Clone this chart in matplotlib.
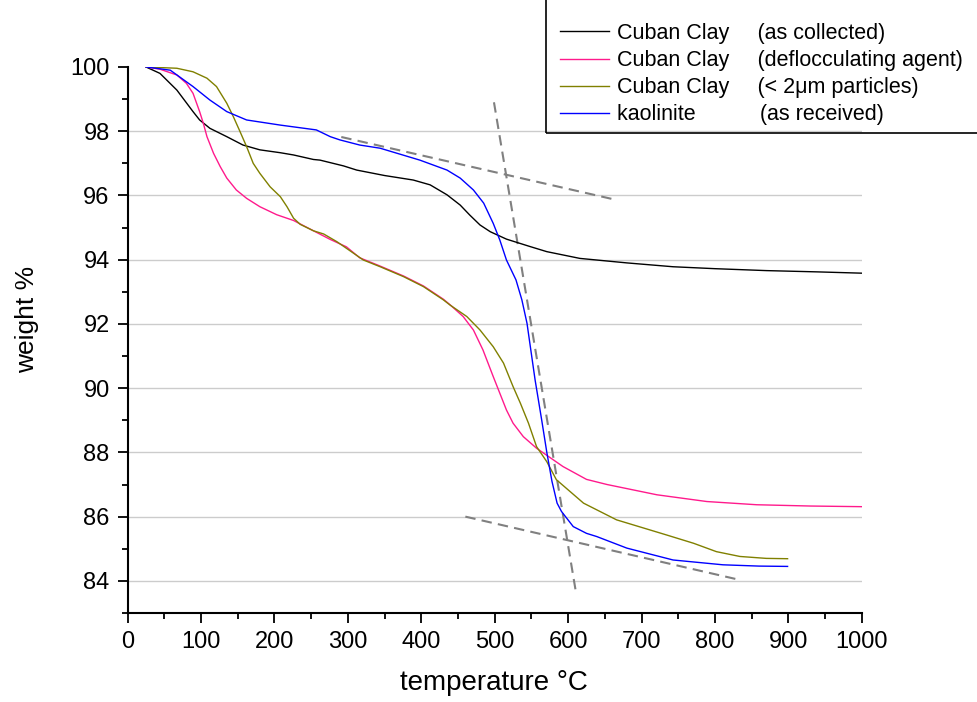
import matplotlib
matplotlib.use("Agg")
import matplotlib.pyplot as plt
from matplotlib.patches import Rectangle
from matplotlib.ticker import MultipleLocator

plt.rcParams['font.family'] = ['Liberation Sans', 'DejaVu Sans']

# --- data ---
t_collected = [25, 44, 67, 89, 98, 112, 135, 157, 180, 208, 226, 253, 262, 294, 312, 350, 389,
               412, 435, 453, 466, 480, 494, 516, 548, 571, 616, 680, 743, 800, 870, 940, 1000]
w_collected = [100, 99.8, 99.28, 98.61, 98.35, 98.09, 97.83, 97.57, 97.42, 97.33, 97.26, 97.12,
               97.1, 96.92, 96.79, 96.62, 96.48, 96.33, 96.02, 95.7, 95.39, 95.08, 94.87, 94.64,
               94.41, 94.25, 94.04, 93.9, 93.78, 93.72, 93.66, 93.62, 93.58]

t_defloc = [25, 44, 67, 80, 89, 98, 103, 108, 117, 126, 135, 148, 162, 180, 203, 226, 253, 276,
            298, 316, 344, 376, 403, 430, 439, 457, 471, 484, 498, 507, 516, 525, 539, 557, 593,
            625, 653, 721, 789, 857, 930, 1000]
w_defloc = [100, 99.93, 99.75, 99.49, 99.18, 98.61, 98.25, 97.83, 97.31, 96.9, 96.54, 96.17,
            95.91, 95.65, 95.4, 95.22, 94.9, 94.63, 94.4, 94.06, 93.8, 93.49, 93.18, 92.77,
            92.6, 92.23, 91.81, 91.19, 90.36, 89.84, 89.32, 88.91, 88.49, 88.13, 87.56, 87.16,
            87.0, 86.68, 86.47, 86.37, 86.33, 86.31]

t_fine = [25, 67, 89, 108, 121, 135, 144, 153, 162, 171, 180, 194, 208, 217, 226, 235, 253,
          267, 285, 321, 344, 376, 403, 430, 439, 462, 480, 498, 512, 525, 535, 546, 557, 571,
          584, 621, 666, 734, 771, 802, 834, 870, 899]
w_fine = [100, 99.96, 99.85, 99.65, 99.39, 98.87, 98.45, 97.99, 97.52, 97.0, 96.69, 96.27,
          95.96, 95.65, 95.29, 95.1, 94.9, 94.8, 94.56, 93.99, 93.78, 93.47, 93.16, 92.75,
          92.59, 92.23, 91.81, 91.29, 90.78, 90.05, 89.53, 88.91, 88.18, 87.71, 87.15, 86.42,
          85.9, 85.43, 85.17, 84.91, 84.76, 84.7, 84.69]

t_kaol = [25, 58, 89, 112, 135, 162, 208, 257, 276, 289, 316, 344, 398, 435, 453, 471, 485,
          498, 507, 516, 529, 537, 544, 555, 564, 571, 578, 585, 591, 607, 625, 639, 680, 743,
          811, 860, 899]
w_kaol = [100, 99.9, 99.39, 98.97, 98.61, 98.35, 98.19, 98.04, 97.83, 97.73, 97.57, 97.47,
          97.1, 96.79, 96.54, 96.17, 95.76, 95.13, 94.61, 93.99, 93.37, 92.75, 92.02, 90.26,
          89.01, 88.0, 87.1, 86.42, 86.16, 85.69, 85.48, 85.38, 85.02, 84.65, 84.5, 84.46,
          84.45]

# tangent construction lines (start/end points)
tan_upper_t, tan_upper_w = [291, 660], [97.82, 95.89]
tan_steep_t, tan_steep_w = [499, 611], [98.9, 83.6]
tan_lower_t, tan_lower_w = [460, 830], [86.0, 84.05]

labels = ["Cuban Clay    \u2009(as collected)",
          "Cuban Clay    \u2009(deflocculating agent)",
          "Cuban Clay    \u2009(< 2\u03bcm particles)",
          "kaolinite          \u2009(as received)"]
colors = ["black", "#ff1a8c", "#808000", "#0000ff"]

fig = plt.figure(figsize=(9.77, 7.02), dpi=100)
ax = fig.add_axes([0.1307, 0.1268, 0.7513, 0.7778])

ax.yaxis.grid(True, color="#cccccc", linewidth=1.0, zorder=0)

series = [(t_collected, w_collected), (t_defloc, w_defloc), (t_fine, w_fine), (t_kaol, w_kaol)]
for (t, w), lab, c in zip(series, labels, colors):
    ax.plot(t, w, color=c, linewidth=1.0, label=lab, zorder=3)

for t, w in [(tan_upper_t, tan_upper_w), (tan_steep_t, tan_steep_w), (tan_lower_t, tan_lower_w)]:
    ax.plot(t, w, color="#808080", linewidth=1.5, linestyle=(0, (5, 3)), zorder=2)

ax.set_xlim(0, 1000)
ax.set_ylim(83, 100)
ax.xaxis.set_major_locator(MultipleLocator(100))
ax.xaxis.set_minor_locator(MultipleLocator(50))
ax.yaxis.set_minor_locator(MultipleLocator(1))
ax.set_yticks(range(84, 101, 2))

# hide the grid line sitting on the top edge
ax.yaxis.get_gridlines()[-1].set_visible(False)

for side in ["top", "right"]:
    ax.spines[side].set_visible(False)
for side in ["left", "bottom"]:
    ax.spines[side].set_linewidth(1.5)

ax.tick_params(which="major", direction="out", length=7.5, width=1.3, labelsize=17, pad=5.5)
ax.tick_params(which="minor", direction="out", length=4.5, width=1.3)

ax.set_xlabel("temperature \u00b0C", fontsize=20, va="top")
ax.set_ylabel("weight %", fontsize=19)
ax.xaxis.set_label_coords(0.499, -0.104)
ax.yaxis.set_label_coords(-0.121, 0.537)

leg = fig.legend(loc="upper left", bbox_to_anchor=(550 / 977, 0.981), fontsize=15.5,
                 handlelength=2.3, handletextpad=0.35, labelspacing=0.28,
                 borderpad=0.45, frameon=False, borderaxespad=0)

# legend box: runs off the top and right of the figure
fig.add_artist(Rectangle((546 / 977, 1 - 133 / 702), 0.5, 0.3, transform=fig.transFigure,
                         fill=False, edgecolor="black", linewidth=1.2))

plt.savefig("out.png", dpi=100)
